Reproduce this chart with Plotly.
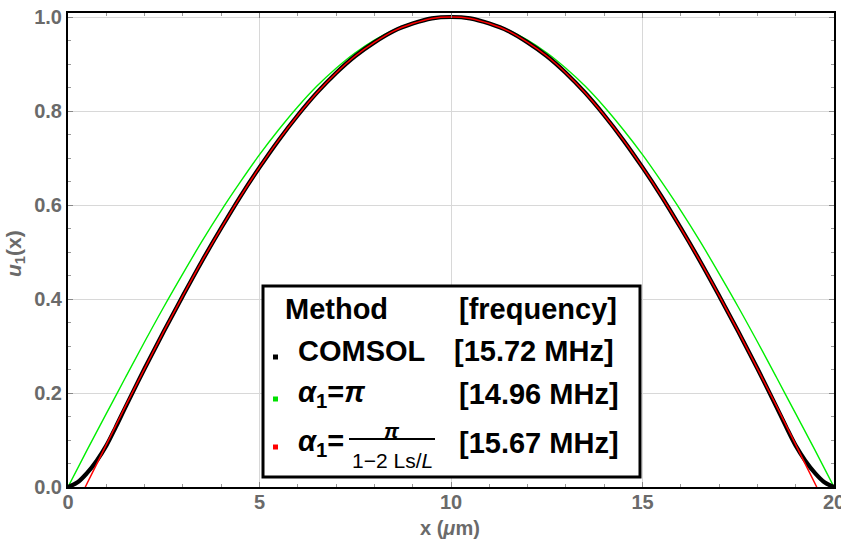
import plotly.graph_objects as go

# ---------------- data ----------------
green_x = [0, 0.5, 1, 1.5, 2, 2.5, 3, 3.5, 4, 4.5, 5, 5.5, 6, 6.5, 7, 7.5, 8, 8.5, 9, 9.5, 10,
           10.5, 11, 11.5, 12, 12.5, 13, 13.5, 14, 14.5, 15, 15.5, 16, 16.5, 17, 17.5, 18, 18.5, 19, 19.5, 20]
green_y = [0.000, 0.079, 0.156, 0.233, 0.309, 0.383, 0.454, 0.523, 0.588, 0.649, 0.707, 0.760, 0.809,
           0.853, 0.891, 0.924, 0.951, 0.972, 0.988, 0.997, 1.000,
           0.997, 0.988, 0.972, 0.951, 0.924, 0.891, 0.853, 0.809, 0.760, 0.707, 0.649, 0.588, 0.523,
           0.454, 0.383, 0.309, 0.233, 0.156, 0.079, 0.000]

red_x = [0.45, 0.5, 1, 1.5, 2, 2.5, 3, 3.5, 4, 4.5, 5, 5.5, 6, 6.5, 7, 7.5, 8, 8.5, 9, 9.5, 10,
         10.5, 11, 11.5, 12, 12.5, 13, 13.5, 14, 14.5, 15, 15.5, 16, 16.5, 17, 17.5, 18, 18.5, 19, 19.5, 19.55]
red_y = [0.000, 0.008, 0.090, 0.172, 0.252, 0.331, 0.407, 0.481, 0.551, 0.618, 0.680, 0.738, 0.791,
         0.839, 0.881, 0.917, 0.946, 0.970, 0.986, 0.997, 1.000,
         0.997, 0.986, 0.970, 0.946, 0.917, 0.881, 0.839, 0.791, 0.738, 0.680, 0.618, 0.551, 0.481,
         0.407, 0.331, 0.252, 0.172, 0.090, 0.008, 0.000]

black_x = [0, 0.25, 0.5, 0.75, 1, 1.25, 1.5, 2, 2.5, 3, 3.5, 4, 4.5, 5, 5.5, 6, 6.5, 7, 7.5, 8, 8.5, 9, 9.5, 10,
           10.5, 11, 11.5, 12, 12.5, 13, 13.5, 14, 14.5, 15, 15.5, 16, 16.5, 17, 17.5, 18, 18.5, 18.75,
           19, 19.25, 19.5, 19.75, 20]
black_y = [0.000, 0.010, 0.030, 0.056, 0.088, 0.128, 0.170, 0.252, 0.331, 0.407, 0.481, 0.551, 0.618,
           0.680, 0.738, 0.791, 0.839, 0.881, 0.917, 0.946, 0.970, 0.986, 0.997, 1.000,
           0.997, 0.986, 0.970, 0.946, 0.917, 0.881, 0.839, 0.791, 0.738, 0.680, 0.618, 0.551, 0.481,
           0.407, 0.331, 0.252, 0.170, 0.128, 0.088, 0.056, 0.030, 0.010, 0.000]

x_ticks = [0, 5, 10, 15, 20]
x_tick_labels = ["0", "5", "10", "15", "20"]
y_ticks = [0.0, 0.2, 0.4, 0.6, 0.8, 1.0]
y_tick_labels = ["0.0", "0.2", "0.4", "0.6", "0.8", "1.0"]

legend_methods = ["COMSOL", "<i>α</i><sub>1</sub>=<i>π</i>", "<i>α</i><sub>1</sub>="]
legend_freqs = ["[15.72 MHz]", "[14.96 MHz]", "[15.67 MHz]"]
legend_colors = ["#000000", "#00e000", "#ff0000"]

# ---------------- figure ----------------
W, H = 841, 541
L, R, T, B = 68, 7, 13, 54
pw, ph = W - L - R, H - T - B


def px(x):
    return (x - L) / pw


def py(y):
    return (H - B - y) / ph


FONT = "Liberation Sans, Arial, sans-serif"
GRAY = "#6a6a6a"

fig = go.Figure()
fig.add_trace(go.Scatter(x=green_x, y=green_y, mode="lines", line=dict(color="#00ee00", width=1.4, shape="spline"),
                         showlegend=False, hoverinfo="skip"))
fig.add_trace(go.Scatter(x=black_x, y=black_y, mode="lines", line=dict(color="#000000", width=4.2, shape="spline"),
                         showlegend=False, hoverinfo="skip"))
fig.add_trace(go.Scatter(x=red_x, y=red_y, mode="lines", line=dict(color="#ff0000", width=1.5, shape="spline"),
                         showlegend=False, hoverinfo="skip"))

axis_common = dict(
    showline=True, linecolor="black", linewidth=2, mirror="allticks",
    showgrid=True, gridcolor="#d8d8d8", gridwidth=1, zeroline=False,
    ticks="inside", ticklen=5, tickcolor="#888888", tickwidth=1,
    ticklabeloverflow="allow", automargin=False,
    tickfont=dict(family=FONT, size=20, color=GRAY, weight="bold"),
)

fig.update_layout(
    width=W, height=H,
    margin=dict(l=L, r=R, t=T, b=B, pad=0, autoexpand=False),
    paper_bgcolor="white", plot_bgcolor="white",
    showlegend=False,
    xaxis=dict(range=[0, 20], tickvals=x_ticks, ticktext=x_tick_labels, ticklabelstandoff=-4,
               minor=dict(dtick=1, ticks="inside", ticklen=3, tickcolor="#999999", showgrid=False),
               **axis_common),
    yaxis=dict(range=[0, 1.0085], tickvals=y_ticks, ticktext=y_tick_labels,
               minor=dict(dtick=0.05, ticks="inside", ticklen=3, tickcolor="#999999", showgrid=False),
               **axis_common),
)

annotations = []
# axis titles
annotations.append(dict(x=px(450), y=py(528), xref="paper", yref="paper", text="x (<i>μ</i>m)",
                        showarrow=False, xanchor="center", yanchor="middle",
                        font=dict(family=FONT, size=20, color=GRAY, weight="bold")))
annotations.append(dict(x=px(15), y=py(254), xref="paper", yref="paper", text="<i>u</i><sub>1</sub>(x)",
                        showarrow=False, xanchor="center", yanchor="middle", textangle=-90,
                        font=dict(family=FONT, size=21, color=GRAY, weight="bold")))

shapes = []
# legend box
shapes.append(dict(type="rect", xref="paper", yref="paper", x0=px(263), x1=px(640), y0=py(477), y1=py(286),
                   line=dict(color="black", width=3), fillcolor="white", layer="above"))

LF = dict(family=FONT, size=29, color="black", weight="bold")
annotations.append(dict(x=px(283), y=py(309), xref="paper", yref="paper", text="Method", showarrow=False,
                        xanchor="left", yanchor="middle", font=LF))
annotations.append(dict(x=px(619), y=py(309), xref="paper", yref="paper", text="[frequency]", showarrow=False,
                        xanchor="right", yanchor="middle", font=LF))

row_y = [351, 394, 443]
freq_right = [616, 621, 621]
marker_y = [357, 399, 447]
for i in range(3):
    annotations.append(dict(x=px(296), y=py(row_y[i]), xref="paper", yref="paper", text=legend_methods[i],
                            showarrow=False, xanchor="left", yanchor="middle", font=LF))
    annotations.append(dict(x=px(freq_right[i]), y=py(row_y[i]), xref="paper", yref="paper", text=legend_freqs[i],
                            showarrow=False, xanchor="right", yanchor="middle", font=LF))
    shapes.append(dict(type="rect", xref="paper", yref="paper",
                       x0=px(273), x1=px(278), y0=py(marker_y[i] + 2.5), y1=py(marker_y[i] - 2.5),
                       line=dict(width=0), fillcolor=legend_colors[i], layer="above"))

# fraction pi / (1-2 Ls/L)
annotations.append(dict(x=px(392), y=py(430), xref="paper", yref="paper", text="<i>π</i>", showarrow=False,
                        xanchor="center", yanchor="middle", font=dict(family=FONT, size=21, color="black", weight="bold")))
shapes.append(dict(type="line", xref="paper", yref="paper", x0=px(349), x1=px(435), y0=py(439), y1=py(439),
                   line=dict(color="black", width=2), layer="above"))
annotations.append(dict(x=px(392), y=py(460), xref="paper", yref="paper", text="1−2 Ls/<i>L</i>", showarrow=False,
                        xanchor="center", yanchor="middle", font=dict(family=FONT, size=21, color="black")))

fig.update_layout(annotations=annotations, shapes=shapes)
fig.write_html("out.html")
